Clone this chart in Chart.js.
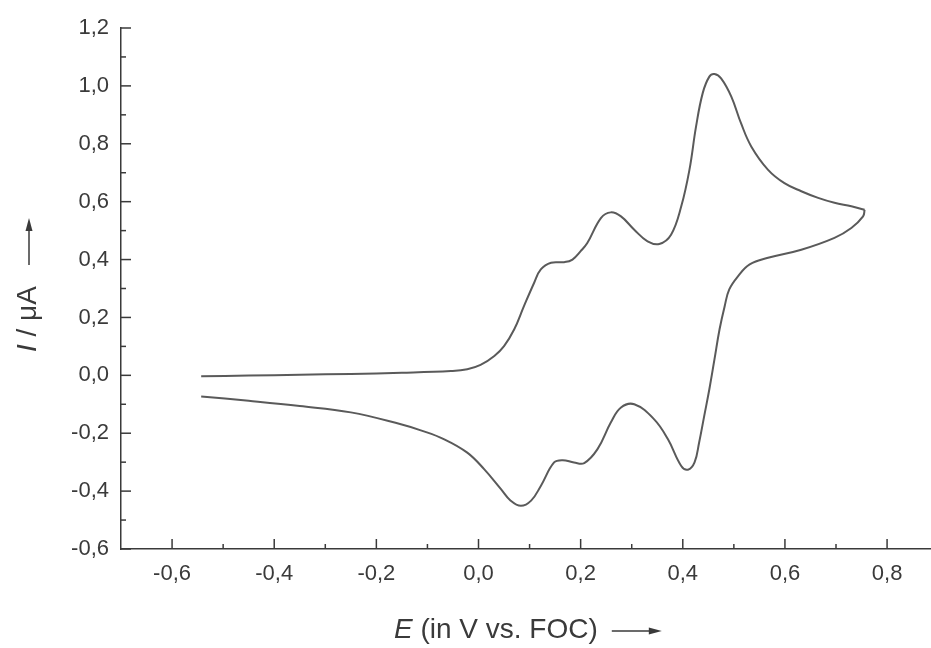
<!DOCTYPE html>
<html>
<head>
<meta charset="utf-8">
<script src="https://cdn.jsdelivr.net/npm/chart.js@4"></script>
<style>
  html, body { margin: 0; padding: 0; background: #fff; }
  #wrap { width: 931px; height: 648px; }
</style>
</head>
<body>
<div id="wrap"><canvas id="cvChart"></canvas></div>
<script>
// forward scan (oxidation)
var forwardE = [-0.543, -0.45, -0.35, -0.25, -0.15, -0.054, -0.022, 0.004, 0.031, 0.05, 0.07, 0.089, 0.109, 0.122, 0.142, 0.168, 0.184, 0.2, 0.213, 0.24, 0.259, 0.279, 0.305, 0.331, 0.354, 0.377, 0.397, 0.413, 0.426, 0.439, 0.452, 0.462, 0.475, 0.495, 0.514, 0.534, 0.567, 0.599, 0.632, 0.665, 0.697, 0.73, 0.756];
var forwardI = [-0.003, -0.001, 0.002, 0.005, 0.009, 0.015, 0.021, 0.036, 0.067, 0.101, 0.159, 0.239, 0.32, 0.366, 0.389, 0.391, 0.4, 0.429, 0.457, 0.544, 0.563, 0.549, 0.503, 0.463, 0.454, 0.486, 0.584, 0.71, 0.86, 0.975, 1.032, 1.041, 1.026, 0.963, 0.871, 0.791, 0.71, 0.664, 0.636, 0.613, 0.596, 0.584, 0.572];

// reverse scan (reduction)
var reverseE = [0.756, 0.753, 0.73, 0.697, 0.632, 0.567, 0.531, 0.508, 0.491, 0.482, 0.472, 0.462, 0.452, 0.442, 0.432, 0.423, 0.41, 0.397, 0.371, 0.344, 0.305, 0.279, 0.259, 0.233, 0.207, 0.187, 0.165, 0.148, 0.122, 0.103, 0.083, 0.063, 0.044, 0.011, -0.022, -0.067, -0.113, -0.152, -0.25, -0.35, -0.45, -0.543];
var reverseI = [0.572, 0.549, 0.509, 0.475, 0.434, 0.406, 0.383, 0.342, 0.297, 0.239, 0.159, 0.055, -0.048, -0.14, -0.232, -0.301, -0.326, -0.313, -0.221, -0.152, -0.1, -0.111, -0.163, -0.255, -0.303, -0.301, -0.293, -0.301, -0.382, -0.433, -0.451, -0.433, -0.393, -0.324, -0.267, -0.221, -0.19, -0.169, -0.128, -0.106, -0.088, -0.073];

var xTicks = [-0.6, -0.5, -0.4, -0.3, -0.2, -0.1, 0.0, 0.1, 0.2, 0.3, 0.4, 0.5, 0.6, 0.7, 0.8];
var yTicks = [-0.6, -0.5, -0.4, -0.3, -0.2, -0.1, 0.0, 0.1, 0.2, 0.3, 0.4, 0.5, 0.6, 0.7, 0.8, 0.9, 1.0, 1.1, 1.2];

var xTitle = ['E', ' (in V vs. FOC)'];
var yTitle = ['I', ' / \u03BCA'];

var inkColor = '#3a3a3a';
var lineColor = '#5a5a5a';
var fontFamily = '"Liberation Sans", Arial, sans-serif';

function toPoints(xs, ys) {
  return xs.map(function (x, i) { return { x: x, y: ys[i] }; });
}

function isMajor(v) {
  return Math.round(v * 10) % 2 === 0;
}

function fmt(v) {
  return v.toFixed(1).replace('.', ',');
}

// inward tick marks, drawn at the scale's own pixels
var tickMarks = {
  id: 'tickMarks',
  afterDatasetsDraw: function (chart) {
    var ctx = chart.ctx;
    var xs = chart.scales.x, ys = chart.scales.y;
    ctx.save();
    ctx.strokeStyle = inkColor;
    ctx.lineWidth = 1.5;
    xs.ticks.forEach(function (t) {
      var px = xs.getPixelForValue(t.value);
      var len = isMajor(t.value) ? 10 : 5;
      ctx.beginPath();
      ctx.moveTo(px, xs.top);
      ctx.lineTo(px, xs.top - len);
      ctx.stroke();
    });
    ys.ticks.forEach(function (t) {
      var py = ys.getPixelForValue(t.value);
      var len = isMajor(t.value) ? 10 : 5;
      ctx.beginPath();
      ctx.moveTo(ys.right, py);
      ctx.lineTo(ys.right + len, py);
      ctx.stroke();
    });
    ctx.restore();
  }
};

function arrow(ctx, x0, y0, len) {
  // horizontal arrow in the current transform, pointing to +x
  ctx.beginPath();
  ctx.moveTo(x0, y0);
  ctx.lineTo(x0 + len - 10, y0);
  ctx.stroke();
  ctx.beginPath();
  ctx.moveTo(x0 + len, y0);
  ctx.lineTo(x0 + len - 13, y0 - 3.5);
  ctx.lineTo(x0 + len - 13, y0 + 3.5);
  ctx.closePath();
  ctx.fill();
}

// axis titles with italic symbol
var axisTitles = {
  id: 'axisTitles',
  afterDraw: function (chart) {
    var ctx = chart.ctx;
    ctx.save();
    ctx.fillStyle = inkColor;
    ctx.strokeStyle = inkColor;
    ctx.lineWidth = 1.5;
    ctx.textBaseline = 'alphabetic';

    var it = 'italic 28px ' + fontFamily, rg = '28px ' + fontFamily;
    ctx.font = it;
    var w0 = ctx.measureText(xTitle[0]).width;
    ctx.font = rg;
    var w1 = ctx.measureText(xTitle[1]).width;
    var x0 = 394;
    ctx.font = it;
    ctx.fillText(xTitle[0], x0, 638);
    ctx.font = rg;
    ctx.fillText(xTitle[1], x0 + w0, 638);
    arrow(ctx, x0 + w0 + w1 + 14, 631, 50);

    ctx.translate(36, 352);
    ctx.rotate(-Math.PI / 2);
    ctx.font = it;
    var v0 = ctx.measureText(yTitle[0]).width;
    ctx.fillText(yTitle[0], 0, 0);
    ctx.font = rg;
    ctx.fillText(yTitle[1], v0, 0);
    arrow(ctx, 87, -7, 47);
    ctx.restore();
  }
};

var ctx = document.getElementById('cvChart').getContext('2d');

var cvChart = new Chart(ctx, {
  type: 'scatter',
  data: {
    datasets: [
      {
        label: 'forward',
        data: toPoints(forwardE, forwardI),
        showLine: true,
        borderColor: lineColor,
        borderWidth: 2,
        pointRadius: 0,
        tension: 0.4
      },
      {
        label: 'reverse',
        data: toPoints(reverseE, reverseI),
        showLine: true,
        borderColor: lineColor,
        borderWidth: 2,
        pointRadius: 0,
        tension: 0.4
      }
    ]
  },
  options: {
    responsive: true,
    maintainAspectRatio: false,
    animation: false,
    layout: { padding: { top: 28, left: 0, right: 0, bottom: 0 } },
    plugins: {
      legend: { display: false },
      tooltip: { enabled: false }
    },
    scales: {
      x: {
        type: 'linear',
        min: -0.7,
        max: 0.886,
        grid: { display: false },
        border: { display: true, color: inkColor, width: 1.5 },
        afterBuildTicks: function (scale) {
          scale.ticks = xTicks.map(function (v) { return { value: v }; });
        },
        afterFit: function (scale) { scale.height = 99; },
        ticks: {
          autoSkip: false,
          maxRotation: 0,
          padding: 4,
          color: inkColor,
          font: { family: fontFamily, size: 22 },
          callback: function (v) { return isMajor(v) ? fmt(v) : ''; }
        }
      },
      y: {
        type: 'linear',
        min: -0.6,
        max: 1.2,
        grid: { display: false },
        border: { display: true, color: inkColor, width: 1.5 },
        afterBuildTicks: function (scale) {
          scale.ticks = yTicks.map(function (v) { return { value: v }; });
        },
        afterFit: function (scale) { scale.width = 121; },
        ticks: {
          autoSkip: false,
          padding: 4,
          color: inkColor,
          font: { family: fontFamily, size: 22 },
          callback: function (v) { return isMajor(v) ? fmt(v) : ''; }
        }
      }
    }
  },
  plugins: [tickMarks, axisTitles]
});
</script>
</body>
</html>
